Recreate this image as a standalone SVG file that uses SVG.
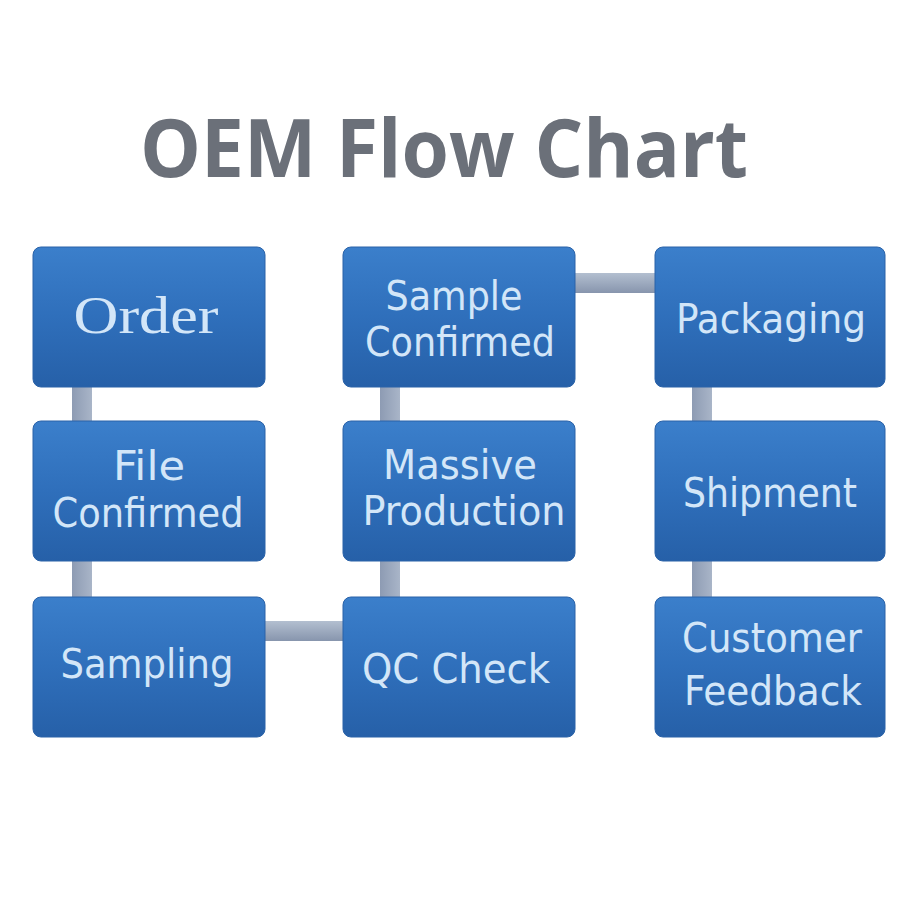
<svg xmlns="http://www.w3.org/2000/svg" width="920" height="920" viewBox="0 0 920 920">
<defs>
<linearGradient id="boxg" x1="0" y1="0" x2="0" y2="1">
<stop offset="0" stop-color="#3b7fcb"/>
<stop offset="0.5" stop-color="#2f6fbb"/>
<stop offset="1" stop-color="#2660a8"/>
</linearGradient>
<linearGradient id="hcon" x1="0" y1="0" x2="0" y2="1">
<stop offset="0" stop-color="#b3bfd0"/>
<stop offset="1" stop-color="#8795ad"/>
</linearGradient>
<linearGradient id="vcon" x1="0" y1="0" x2="1" y2="0">
<stop offset="0" stop-color="#8d9bb3"/>
<stop offset="1" stop-color="#a9b5c8"/>
</linearGradient>
</defs>
<style>
.box{fill:url(#boxg);stroke:#2a62a8;stroke-width:1}
.t{font-family:"DejaVu Sans Condensed","DejaVu Sans",sans-serif;font-size:41px;fill:#d3e6f8;text-anchor:middle}
.s{font-family:"Liberation Serif",serif;font-size:52px;fill:#d3e6f8;text-anchor:middle}
.title{font-family:"Open Sans","Liberation Sans",sans-serif;font-weight:bold;font-size:80px;fill:#6b7079;text-anchor:middle}
</style>
<rect width="920" height="920" fill="#ffffff"/>
<text class="title" x="444" y="177" textLength="608" lengthAdjust="spacingAndGlyphs">OEM Flow Chart</text>
<g id="connectors">
<rect x="72" y="385" width="20" height="38" fill="url(#vcon)"/>
<rect x="72" y="558" width="20" height="42" fill="url(#vcon)"/>
<rect x="263" y="621" width="82" height="20" fill="url(#hcon)"/>
<rect x="380" y="385" width="20" height="38" fill="url(#vcon)"/>
<rect x="380" y="558" width="20" height="42" fill="url(#vcon)"/>
<rect x="573" y="273" width="84" height="20" fill="url(#hcon)"/>
<rect x="692" y="385" width="20" height="38" fill="url(#vcon)"/>
<rect x="692" y="558" width="20" height="42" fill="url(#vcon)"/>
</g>
<g id="order">
<rect class="box" x="33" y="247" width="232" height="140" rx="8"/>
<text class="s" x="146" y="333" textLength="145" lengthAdjust="spacingAndGlyphs">Order</text>
</g>
<g id="file-confirmed">
<rect class="box" x="33" y="421" width="232" height="140" rx="8"/>
<text class="t" x="149" y="480" textLength="72" lengthAdjust="spacingAndGlyphs">File</text>
<text class="t" x="148" y="527" textLength="191" lengthAdjust="spacingAndGlyphs">Confirmed</text>
</g>
<g id="sampling">
<rect class="box" x="33" y="597" width="232" height="140" rx="8"/>
<text class="t" x="147" y="678" textLength="173" lengthAdjust="spacingAndGlyphs">Sampling</text>
</g>
<g id="sample-confirmed">
<rect class="box" x="343" y="247" width="232" height="140" rx="8"/>
<text class="t" x="454" y="310" textLength="137" lengthAdjust="spacingAndGlyphs">Sample</text>
<text class="t" x="460" y="356" textLength="190" lengthAdjust="spacingAndGlyphs">Confirmed</text>
</g>
<g id="massive-production">
<rect class="box" x="343" y="421" width="232" height="140" rx="8"/>
<text class="t" x="460" y="479" textLength="154" lengthAdjust="spacingAndGlyphs">Massive</text>
<text class="t" x="464" y="525" textLength="203" lengthAdjust="spacingAndGlyphs">Production</text>
</g>
<g id="qc-check">
<rect class="box" x="343" y="597" width="232" height="140" rx="8"/>
<text class="t" x="456" y="683" textLength="188" lengthAdjust="spacingAndGlyphs">QC Check</text>
</g>
<g id="packaging">
<rect class="box" x="655" y="247" width="230" height="140" rx="8"/>
<text class="t" x="771" y="333" textLength="190" lengthAdjust="spacingAndGlyphs">Packaging</text>
</g>
<g id="shipment">
<rect class="box" x="655" y="421" width="230" height="140" rx="8"/>
<text class="t" x="770" y="507" textLength="174" lengthAdjust="spacingAndGlyphs">Shipment</text>
</g>
<g id="customer-feedback">
<rect class="box" x="655" y="597" width="230" height="140" rx="8"/>
<text class="t" x="772" y="652" textLength="180" lengthAdjust="spacingAndGlyphs">Customer</text>
<text class="t" x="773" y="705" textLength="178" lengthAdjust="spacingAndGlyphs">Feedback</text>
</g>
</svg>
